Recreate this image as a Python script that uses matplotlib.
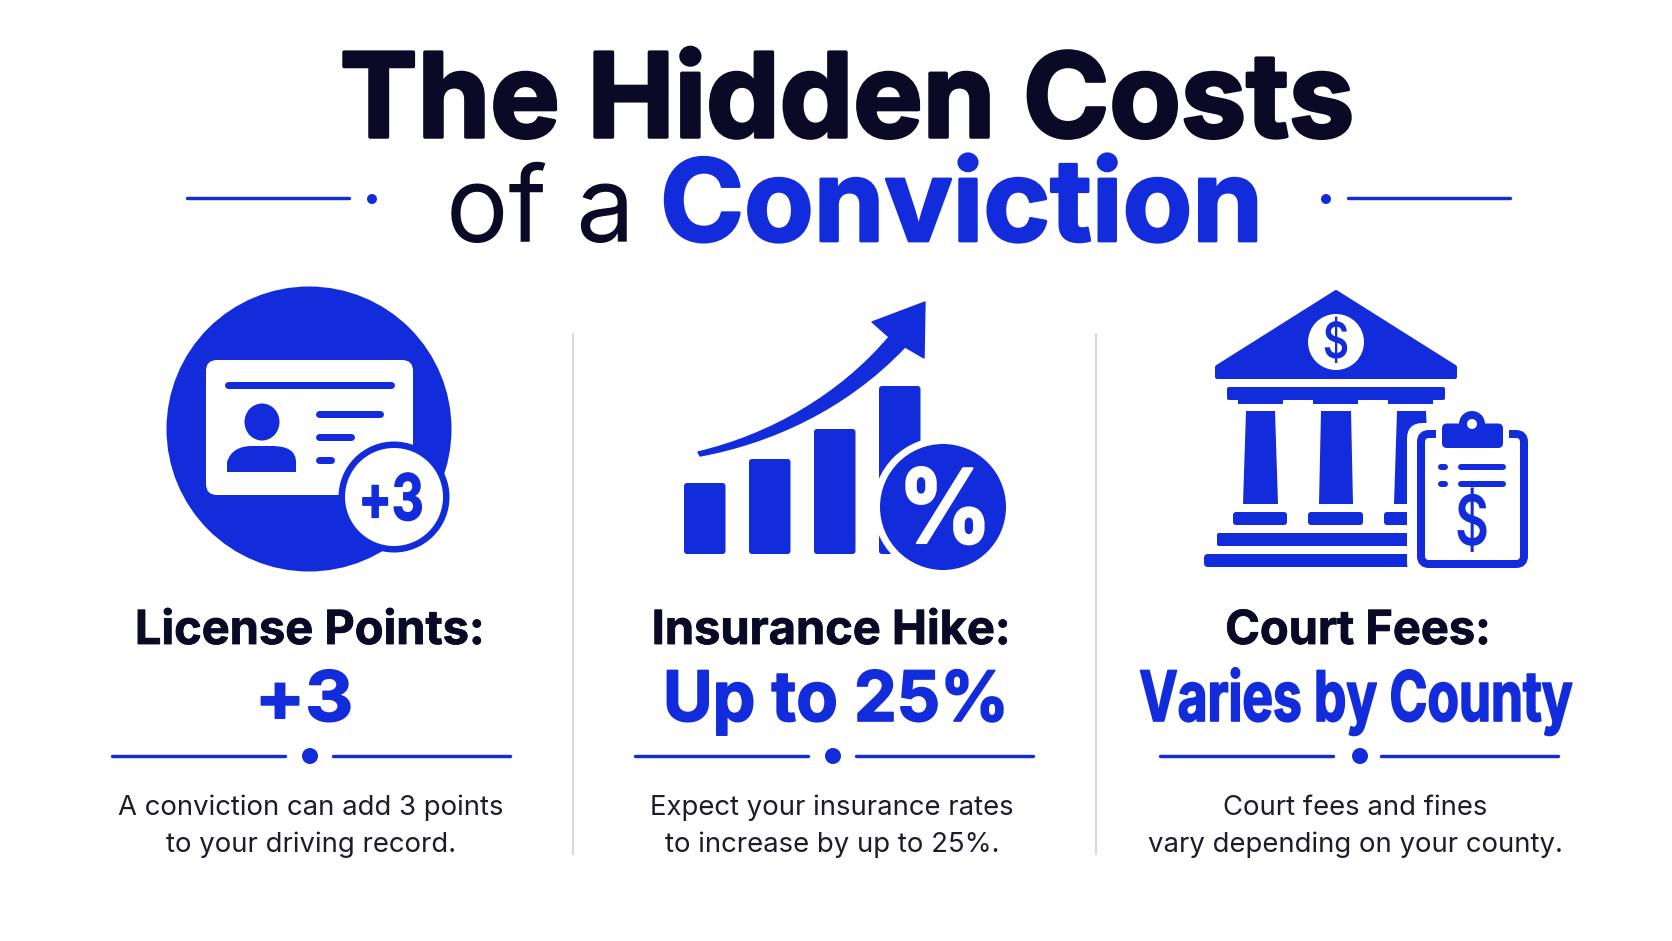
"""
The Hidden Costs of a Conviction - infographic drawn in pixel coordinates.
"""

import matplotlib
matplotlib.use("Agg")
import matplotlib.pyplot as plt
import matplotlib.patheffects as pe
from matplotlib.patches import Circle, Ellipse, FancyBboxPatch, PathPatch, Polygon, Rectangle
from matplotlib.path import Path
from matplotlib.transforms import Affine2D

BLUE = "#132CDB"
INK = "#0A0A26"
BODY = "#1C1C2C"
GREY = "#D8D8DC"

title_top = "The Hidden Costs"
title_plain = "of a"
title_blue = "Conviction"
headings = ["License Points:", "Insurance Hike:", "Court Fees:"]
values = ["+3", "Up to 25%", "Varies by County"]
descriptions = [
    ["A conviction can add 3 points", "to your driving record."],
    ["Expect your insurance rates", "to increase by up to 25%."],
    ["Court fees and fines", "vary depending on your county."],
]
heading_centers = [310, 831, 1358]
value_centers = [304, 836, 1356]
value_squeeze = [1.07, 0.977, 0.74]
desc_centers = [311, 832, 1355]
rule_lefts = [112, 635, 1160]
dot_centers = [310, 833, 1360]
icon_bar_lefts = [684, 749, 814, 879]
icon_bar_tops = [483, 459, 429, 386]

plt.rcParams["font.family"] = ["Inter", "DejaVu Sans"]

fig = plt.figure(figsize=(16.72, 9.41), dpi=100, facecolor="white")
ax = fig.add_axes([0, 0, 1, 1])
ax.set_xlim(0, 1672)
ax.set_ylim(941, 0)
ax.axis("off")


class Squeeze(pe.AbstractPathEffect):
    """Narrow a text horizontally about x, with an outline of the same colour."""

    def __init__(self, x, factor, stroke=0.0):
        super().__init__()
        self.x = x
        self.factor = factor
        self.stroke = stroke

    def draw_path(self, renderer, gc, tpath, affine, rgbFace=None):
        squeezed = affine + Affine2D().translate(-self.x, 0).scale(self.factor, 1).translate(self.x, 0)
        if self.stroke > 0:
            gc2 = renderer.new_gc()
            gc2.copy_properties(gc)
            gc2.set_linewidth(self.stroke)
            gc2.set_foreground(rgbFace)
            renderer.draw_path(gc2, tpath, squeezed, rgbFace)
            gc2.restore()
        else:
            renderer.draw_path(gc, tpath, squeezed, rgbFace)


def px(width):
    """Pixels to points, the figure is at 100 dpi."""
    return width * 0.72


def hline(x0, x1, y, width=3.4, color=BLUE):
    ax.plot([x0, x1], [y, y], color=color, lw=px(width), solid_capstyle="round")


def box(x0, y0, x1, y1, radius=3, color=BLUE):
    ax.add_patch(FancyBboxPatch((x0, y0), x1 - x0, y1 - y0, boxstyle=f"round,pad=0,rounding_size={radius}",
                                fc=color, ec="none"))


def dot(x, y, r, color=BLUE):
    ax.add_patch(Circle((x, y), r, fc=color, ec="none"))


def heavy(size, color, stroke):
    return dict(fontsize=size, color=color, fontweight="bold",
                path_effects=[pe.withStroke(linewidth=stroke, foreground=color)])


def narrow(x, y, text, size, factor, color=BLUE, stroke=1.0, weight="bold"):
    ax.text(x, y, text, ha="center", va="baseline", fontsize=size, color=color, fontweight=weight,
            path_effects=[Squeeze(x, factor, stroke)])


# 标题
ax.text(847, 137, title_top, ha="center", va="baseline", **heavy(84, INK, 2.5))
ax.text(446, 241, title_plain, ha="left", va="baseline", fontsize=75, color=INK)
ax.text(660, 241, title_blue, ha="left", va="baseline", **heavy(81.8, BLUE, 2.0))
hline(187, 349, 198)
dot(372, 199, 5)
dot(1326, 199, 5)
hline(1348, 1510, 198)

# 分隔线
for x in [573, 1096]:
    ax.plot([x, x], [334, 854], color=GREY, lw=px(2))

# 图标一: 驾照
dot(309, 429, 142.5)
box(206, 360, 413, 495, radius=11, color="white")
hline(228, 391, 384.5, width=7)
ax.add_patch(Ellipse((262, 422), 35, 37, fc=BLUE, ec="none"))
ax.add_patch(PathPatch(Path(
    [(227, 472), (227, 462), (232, 446), (252, 446), (272, 446), (296, 446), (296, 462), (296, 472), (227, 472)],
    [Path.MOVETO, Path.LINETO, Path.CURVE3, Path.CURVE3, Path.LINETO, Path.CURVE3, Path.CURVE3, Path.LINETO, Path.CLOSEPOLY],
), fc=BLUE, ec="none"))
hline(319, 380, 413.5, width=7)
hline(319, 351, 436.5, width=7)
hline(319, 331, 460, width=7)
dot(394, 497, 55.5)
dot(394, 497, 49, color="white")
narrow(391, 520, "+3", 46, 0.77)

# 图标二: 柱子和箭头
for left, top in zip(icon_bar_lefts, icon_bar_tops):
    box(left, top, left + 41.5, 554)
ax.add_patch(PathPatch(Path(
    [(698, 452), (770, 435), (840, 395), (889, 337), (872, 322), (925, 302), (924, 358), (905, 347),
     (845, 410), (770, 443), (700, 456), (698, 452)],
    [Path.MOVETO, Path.CURVE4, Path.CURVE4, Path.CURVE4, Path.LINETO, Path.LINETO, Path.LINETO, Path.LINETO,
     Path.CURVE4, Path.CURVE4, Path.CURVE4, Path.CLOSEPOLY],
), fc=BLUE, ec=BLUE, lw=1, joinstyle="round"))
dot(943, 507, 70, color="white")
dot(943, 507, 63)
narrow(945, 543, "%", 74, 0.9, color="white", stroke=1.5)

# 图标三: 法院和写字板
ax.add_patch(Polygon([(1336, 292), (1455, 367), (1455, 377), (1217, 377), (1217, 367)], closed=True,
                     fc=BLUE, ec=BLUE, lw=px(4), joinstyle="round"))
dot(1336, 342, 28, color="white")
narrow(1336, 358, "$", 36, 0.8, stroke=0, weight="semibold")
box(1227, 387, 1445, 400, radius=2)
for left in [1238, 1313, 1388]:
    ax.add_patch(Rectangle((left, 398), 45, 6, fc=BLUE, ec="none"))
for top_l, top_r, bot_l, bot_r in [(1246, 1275, 1243, 1278), (1321, 1351, 1319, 1353), (1397, 1426, 1394, 1430)]:
    ax.add_patch(Polygon([(top_l, 411), (top_r, 411), (bot_r, 504), (bot_l, 504)], closed=True, fc=BLUE, ec="none"))
box(1233, 512, 1287, 525, radius=3)
box(1308, 512, 1363, 525, radius=3)
box(1384, 512, 1430, 525, radius=3)
box(1217, 533, 1430, 546, radius=2)
box(1204, 554, 1430, 567, radius=4)
box(1407, 423, 1535, 578, radius=16, color="white")
ax.add_patch(FancyBboxPatch((1421, 434), 103, 130, boxstyle="round,pad=0,rounding_size=8",
                            fc="white", ec=BLUE, lw=px(8)))
ax.add_patch(Rectangle((1436, 425), 73, 16, fc="white", ec="none"))
dot(1472, 424, 13)
box(1442, 423.5, 1503, 448, radius=5)
dot(1472, 424, 5, color="white")
hline(1441, 1445, 467, width=6)
hline(1461, 1503, 467, width=6)
hline(1441, 1445, 484, width=6)
hline(1461, 1503, 484, width=6)
narrow(1472, 545, "$", 50, 0.75, stroke=0, weight="semibold")

# 三列文字
for i in range(3):
    ax.text(heading_centers[i], 644, headings[i], ha="center", va="baseline", **heavy(33.8, INK, 0.6))
    narrow(value_centers[i], 721, values[i], 50, value_squeeze[i], stroke=1.2)
    hline(rule_lefts[i], rule_lefts[i] + 173, 756)
    dot(dot_centers[i], 756, 8)
    hline(rule_lefts[i] + 221, rule_lefts[i] + 398, 756)
    ax.text(desc_centers[i], 815, descriptions[i][0], ha="center", va="baseline", fontsize=19.8, color=BODY)
    ax.text(desc_centers[i], 852, descriptions[i][1], ha="center", va="baseline", fontsize=19.8, color=BODY)

fig.savefig("out.png", dpi=100, facecolor="white")
